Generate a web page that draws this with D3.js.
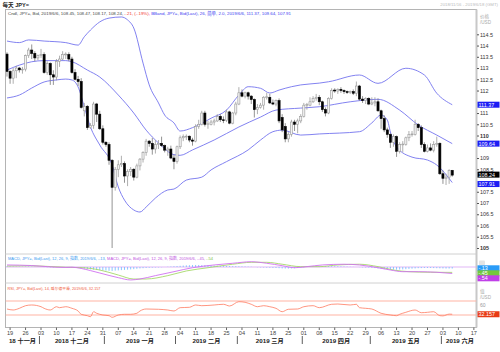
<!DOCTYPE html>
<html>
<head>
<meta charset="utf-8">
<script src="https://cdn.jsdelivr.net/npm/d3@7"></script>
<style>
body{margin:0;background:#fff;}
svg{display:block;font-family:"Liberation Sans","Noto Sans CJK SC",sans-serif;}
</style>
</head>
<body>
<div id="chart"></div>
<script>
// trading calendar shown on the chart (weekdays only)
let firstDay = new Date(2018, 10, 16);
let lastDay = new Date(2019, 5, 18);

// daily candles, 2018/11/16 .. 2019/6/6
let opens = [113.62,112.85,112.55,112.88,113.00,112.92,112.95,113.55,113.80,113.65,113.45,113.55,113.60,112.80,113.20,112.70,112.60,113.30,113.40,113.60,
 113.60,113.40,112.80,112.50,112.40,111.10,111.30,110.35,110.45,111.40,110.95,110.30,109.70,109.60,108.90,107.70,108.50,108.70,108.75,108.20,
 108.40,108.50,108.15,108.65,108.95,109.25,109.75,109.65,109.40,109.60,109.65,109.55,109.35,109.40,109.00,108.85,109.50,109.90,109.95,109.97,
 109.80,109.75,110.40,110.50,111.00,110.50,110.50,110.60,110.65,110.85,110.70,110.68,111.05,110.55,111.00,111.40,111.90,111.75,111.90,111.75,
 111.60,111.15,111.25,111.35,111.70,111.70,111.45,111.40,111.55,110.80,110.40,109.85,110.05,110.60,110.50,110.65,110.85,111.35,111.35,111.50,
 111.65,111.70,111.50,111.15,111.00,111.65,112.02,111.98,112.05,112.00,111.95,111.93,111.95,111.88,112.20,111.62,111.55,111.65,111.40,111.45,
 111.50,111.10,110.75,110.25,110.05,109.70,109.95,109.30,109.60,109.60,109.90,110.05,110.05,110.50,110.35,109.60,109.30,109.45,109.35,109.60,
 109.65,108.30,108.10,108.15,108.45];
let highs = [113.70,112.90,113.00,113.10,113.05,113.05,113.60,113.90,114.05,113.75,113.60,113.85,113.70,113.30,113.25,112.90,113.40,113.55,113.75,113.70,
 113.70,113.50,112.95,112.65,112.55,111.45,111.35,110.55,111.50,111.45,111.10,110.45,109.75,109.70,108.95,108.60,108.90,109.10,108.85,108.50,
 108.60,108.55,108.75,109.00,109.30,109.85,109.80,109.90,109.80,109.80,109.95,109.60,109.50,109.55,109.15,109.55,110.00,110.05,110.05,110.00,
 109.90,110.50,110.70,111.10,111.10,110.65,110.70,110.75,110.95,110.95,110.85,111.15,111.10,111.05,111.50,112.15,112.05,111.95,111.95,111.80,
 111.65,111.40,111.45,111.75,111.90,111.85,111.60,111.60,111.65,110.95,110.55,110.15,110.70,110.70,110.75,110.95,111.45,111.45,111.70,111.75,
 111.85,111.80,111.55,111.25,111.70,112.10,112.10,112.10,112.15,112.05,112.00,112.00,112.05,112.40,112.25,111.75,111.70,111.70,111.70,111.70,
 111.65,111.15,110.90,110.35,110.10,110.05,110.00,109.70,109.75,109.95,110.20,110.20,110.70,110.55,110.45,109.70,109.60,109.65,109.75,109.95,
 109.70,108.45,108.30,108.50,108.47];
let lows = [112.62,112.30,112.30,112.55,112.80,112.75,112.85,113.45,113.40,113.30,113.35,113.45,112.75,112.70,112.25,112.25,112.45,113.05,113.35,113.40,
 113.30,112.75,112.45,112.20,111.20,110.85,110.25,110.30,110.30,110.60,110.25,109.60,109.50,108.70,105.00,107.55,108.15,108.60,107.90,107.75,
 108.20,108.00,108.10,108.45,108.80,109.10,109.50,109.15,109.20,109.40,109.50,109.25,109.10,108.95,108.50,108.75,109.40,109.75,109.80,109.70,
 109.55,109.70,110.30,110.45,110.40,110.30,110.45,110.45,110.60,110.60,110.55,110.60,110.50,110.50,110.90,111.35,111.70,111.65,111.60,111.40,
 110.80,110.95,111.20,111.15,111.60,111.40,111.35,111.30,110.55,110.15,109.70,109.70,109.95,110.20,110.10,110.55,110.80,111.15,111.30,111.45,
 111.55,111.35,111.05,110.85,110.95,111.60,111.90,111.85,111.90,111.85,111.85,111.85,111.80,111.75,111.55,111.45,111.40,111.35,111.35,111.30,
 111.05,110.30,110.15,109.90,109.45,109.50,109.05,109.20,109.25,109.55,109.75,109.95,110.00,110.20,109.45,109.25,109.25,109.30,109.25,109.50,
 108.25,107.85,107.80,107.85,108.17];
let closes = [112.85,112.55,112.88,113.00,112.92,112.95,113.55,113.80,113.65,113.45,113.55,113.60,112.80,113.20,112.70,112.60,113.30,113.40,113.60,113.62,
 113.40,112.80,112.50,112.40,111.25,111.30,110.35,110.45,111.40,110.95,110.30,109.70,109.60,108.90,107.70,108.50,108.70,108.75,108.20,108.40,
 108.50,108.15,108.65,108.95,109.25,109.75,109.65,109.40,109.60,109.65,109.55,109.35,109.40,109.00,108.85,109.50,109.90,109.95,109.97,109.80,
 109.75,110.40,110.50,111.00,110.50,110.52,110.60,110.65,110.85,110.70,110.68,111.05,110.55,111.00,111.40,111.90,111.75,111.90,111.75,111.60,
 111.15,111.25,111.35,111.70,111.72,111.45,111.40,111.55,110.65,110.25,109.85,110.05,110.60,110.50,110.65,110.85,111.35,111.38,111.50,111.65,
 111.70,111.50,111.15,111.00,111.65,112.00,111.98,112.05,112.00,111.95,111.93,111.95,111.88,112.20,111.62,111.55,111.65,111.40,111.45,111.50,
 111.10,110.75,110.25,110.05,109.70,109.95,109.30,109.60,109.62,109.90,110.05,110.07,110.50,110.35,109.60,109.30,109.45,109.35,109.60,109.65,
 108.30,108.10,108.15,108.45,108.24];

// Bollinger band (26, 2.0)
let upperDates = ["11-16","11-22","11-27","12-04","12-13","12-19","12-21","12-25","12-28","01-02","01-08","01-10","01-14","01-17","01-21","01-24","01-28","01-31","02-04","02-08",
 "02-13","02-18","02-25","03-01","03-06","03-12","03-15","03-20","03-26","03-29","04-08","04-11","04-25","05-03","05-16","05-24","05-30","06-06"];
let upperVals = [114.20,114.13,114.25,114.20,114.13,114.02,114.39,114.69,115.05,115.22,115.27,115.14,114.78,113.22,112.25,111.45,110.91,110.56,110.20,110.35,
 110.54,110.77,111.13,111.80,112.17,112.10,111.89,112.02,112.17,112.25,112.33,112.39,112.69,112.32,112.99,112.69,111.88,111.37];
let midDates = ["11-16","11-22","11-28","12-04","12-13","12-17","12-24","12-28","01-07","01-14","01-18","01-24","01-31","02-04","02-08","02-19","03-01","03-12","03-19","03-29",
 "04-08","04-22","05-03","05-14","05-22","05-30","06-06"];
let midVals = [112.91,113.13,113.28,113.33,113.33,113.28,112.91,112.60,111.80,111.00,110.24,109.67,109.15,109.12,109.36,109.80,110.38,110.82,111.13,111.22,
 111.28,111.50,111.61,111.13,110.47,110.02,109.64];
let lowerDates = ["11-16","11-22","11-28","12-04","12-10","12-13","12-17","12-19","12-21","12-25","12-28","01-03","01-07","01-09","01-14","01-16","01-18","01-23","01-29","01-31",
 "02-06","02-13","02-18","02-25","03-06","03-12","03-18","03-21","03-29","04-08","04-25","05-01","05-06","05-08","05-09","05-13","05-20","05-27","05-30","06-06"];
let lowerVals = [111.67,111.80,112.11,112.38,112.47,112.51,112.47,112.16,111.27,110.38,109.58,108.69,107.71,107.13,106.69,106.60,106.82,107.22,107.58,107.62,
 108.02,108.15,108.47,108.84,109.36,109.80,110.17,110.24,110.02,110.07,110.17,110.56,110.91,110.69,110.16,109.49,109.04,108.91,108.69,107.91];

// MACD (12, 26, 9)
let macdDates = ["11-16","11-28","12-05","12-13","12-17","12-20","12-25","12-28","01-07","01-11","01-16","01-23","01-31","02-08","02-19","02-27","03-07","03-14","03-21","03-27",
 "04-02","04-09","04-18","04-25","05-03","05-09","05-15","05-22","05-30","06-06"];
let macdVals = [0.17,0.12,0.03,-0.04,-0.02,-0.12,-0.30,-0.50,-0.89,-1.08,-1.00,-0.72,-0.39,-0.06,0.17,0.31,0.44,0.31,0.11,-0.06,
 0.03,0.17,0.23,0.17,-0.06,-0.25,-0.39,-0.39,-0.44,-0.54];
let signalDates = ["11-16","11-28","12-05","12-13","12-20","12-28","01-07","01-14","01-18","01-29","02-06","02-15","02-27","03-07","03-14","03-21","03-29","04-08","04-16","04-25",
 "05-03","05-10","05-17","05-28","06-06"];
let signalVals = [0.08,0.10,0.05,-0.02,-0.05,-0.25,-0.67,-1.00,-1.00,-0.72,-0.33,-0.06,0.23,0.39,0.39,0.23,0.03,0.03,0.17,0.23,
 0.03,-0.25,-0.39,-0.44,-0.45];
let histVals = [0.06,0.05,0.04,0.03,0.03,0.02,0.03,0.04,0.03,0.02,0.01,0.00,-0.01,
 -0.02,-0.03,-0.03,-0.02,-0.01,-0.01,-0.02,-0.02,-0.03,-0.04,
 -0.06,-0.10,-0.14,-0.18,-0.20,-0.22,-0.25,-0.27,-0.28,-0.30,-0.32,-0.33,-0.30,
 -0.28,-0.26,-0.24,-0.22,-0.20,-0.18,-0.15,-0.12,-0.10,-0.08,-0.06,-0.05,-0.04,-0.03,-0.02,
 0.00,0.02,0.04,0.06,0.08,0.10,0.12,0.14,0.15,0.16,0.17,0.17,0.16,0.15,0.14,0.13,0.12,0.11,0.10,0.09,0.08,0.08,0.07,0.07,0.06,
 0.05,0.04,0.03,0.02,0.00,-0.02,-0.03,-0.04,-0.05,-0.06,-0.07,
 -0.08,-0.10,-0.12,-0.13,-0.13,-0.12,-0.10,-0.08,-0.06,
 -0.03,0.00,0.02,0.04,0.05,0.06,0.06,0.07,0.07,0.07,0.06,0.06,0.05,0.04,0.03,0.02,0.01,
 0.00,-0.01,-0.03,-0.04,-0.05,-0.07,-0.09,-0.12,-0.15,-0.18,-0.20,-0.21,-0.22,-0.22,-0.21,-0.20,-0.18,-0.16,-0.14,-0.12,-0.10,-0.09,-0.08,-0.08,-0.08,-0.09,-0.10,-0.11,-0.12,-0.13,-0.13,-0.13];

// RSI (14, Wilder)
let rsiDates = ["11-16","11-20","11-22","11-26","11-28","12-03","12-04","12-06","12-10","12-11","12-13","12-17","12-19","12-20","12-24","12-25","12-26","12-27","12-31","01-02",
 "01-03","01-07","01-09","01-11","01-15","01-16","01-18","01-24","01-29","01-31","02-04","02-07","02-11","02-13","02-19","02-22","02-26","03-01","03-05","03-07",
 "03-11","03-13","03-15","03-19","03-21","03-25","03-28","04-01","04-04","04-08","04-12","04-16","04-22","04-24","04-25","04-29","05-01","05-06","05-09","05-13",
 "05-14","05-16","05-21","05-23","05-27","05-29","05-31","06-03","06-05","06-06"];
let rsiVals = [47.1,44.3,49.1,56.6,58.6,53.7,49.1,44.3,53.7,50.9,53.7,49.1,41.4,32.0,28.0,25.1,39.4,34.9,30.0,28.0,
 23.4,30.0,32.0,32.0,34.9,41.4,47.1,46.3,44.3,41.4,50.9,52.0,58.6,56.6,58.6,60.6,55.7,68.0,66.3,60.6,
 53.7,56.6,53.7,49.1,39.4,46.3,47.1,53.7,56.6,50.9,60.6,61.4,58.6,60.6,50.9,49.1,47.1,34.9,30.0,28.0,
 32.0,37.7,44.3,36.6,37.7,39.4,28.0,27.5,32.5,32.157];

// axis labels (111.5, 109.5 and 108 sit under the value boxes)
let priceTicks = [114.5,114,113.5,113,112.5,112,111,110.5,110,109,108.5,107.5,107,106.5,106,105.5,105];
let monthLabels = ["18 十一月","2018 十二月","2019 一月","2019 二月","2019 三月","2019 四月","2019 五月","2019 六月"];

let width = 500, height = 352;
let plotLeft = 5.5, plotRight = 476.5;
let mainTop = 9.5, mainBottom = 254, macdBottom = 283, rsiBottom = 327.5;

let days = d3.timeDay.range(firstDay, d3.timeDay.offset(lastDay, 1)).filter(d => d.getDay() % 6 !== 0);
let keyOf = d3.timeFormat("%m-%d");
let dayIndex = new Map(days.map((d, i) => [keyOf(d), i]));

let x = d3.scaleBand().domain(d3.range(days.length)).range([5.45, 478.5]);
let cx = i => x(i) + x.bandwidth() / 2;
let y = d3.scaleLinear().domain([105, 114.5]).range([248, 34.3]);
let yMacd = d3.scaleLinear().domain([-1, 1]).range([279, 255]);
let yRsi = d3.scaleLinear().domain([30, 70]).range([315, 301]);

let candles = opens.map((o, i) => ({i, o, h: highs[i], l: lows[i], c: closes[i]}));
let series = (dates, vals) => dates.map((d, k) => ({i: dayIndex.get(d), v: vals[k]}));

let svg = d3.create("svg").attr("width", width).attr("height", height);
svg.append("rect").attr("width", width).attr("height", height).attr("fill", "#fff");

svg.append("clipPath").attr("id", "plotclip")
    .append("rect").attr("x", plotLeft).attr("y", mainTop).attr("width", plotRight - plotLeft).attr("height", rsiBottom - mainTop);

// header
svg.append("text").attr("x", 2.5).attr("y", 6.8).attr("font-size", 5.6).attr("font-weight", "bold").attr("fill", "#222").text("每天 JPY=");
svg.append("text").attr("x", 498).attr("y", 6.3).attr("text-anchor", "end").attr("font-size", 4.3).attr("fill", "#bbb")
    .text("2018/11/16 - 2019/6/18 (GMT)");

// panel frames
let frame = svg.append("g").attr("stroke", "#b4b4b4").attr("fill", "none");
frame.append("rect").attr("x", plotLeft).attr("y", mainTop).attr("width", plotRight - plotLeft).attr("height", rsiBottom - mainTop);
frame.append("line").attr("x1", plotLeft).attr("x2", plotRight).attr("y1", mainBottom).attr("y2", mainBottom).attr("stroke", "#d0d0d0");
frame.append("line").attr("x1", plotLeft).attr("x2", plotRight).attr("y1", macdBottom).attr("y2", macdBottom).attr("stroke", "#d0d0d0");
frame.append("line").attr("x1", plotRight).attr("x2", plotRight).attr("y1", mainTop).attr("y2", rsiBottom).attr("stroke", "#c8c8c8").attr("stroke-width", 2);

let plot = svg.append("g").attr("clip-path", "url(#plotclip)");

// bollinger bands
let bandLine = d3.line().x(d => cx(d.i)).y(d => y(d.v)).curve(d3.curveMonotoneX);
plot.append("g").attr("fill", "none").attr("stroke", "#7474ee").attr("stroke-width", 0.9)
  .selectAll("path")
  .data([series(upperDates, upperVals), series(midDates, midVals), series(lowerDates, lowerVals)])
  .join("path")
    .attr("d", bandLine);

// candles
let cg = plot.append("g").selectAll("g").data(candles).join("g");
cg.append("line")
    .attr("x1", d => cx(d.i)).attr("x2", d => cx(d.i))
    .attr("y1", d => y(d.h)).attr("y2", d => y(d.l))
    .attr("stroke", d => d.c >= d.o ? "#9a9a9a" : "#777")
    .attr("stroke-width", 0.8);
cg.append("rect")
    .attr("x", d => cx(d.i) - 1.05)
    .attr("width", 2.1)
    .attr("y", d => y(Math.max(d.o, d.c)))
    .attr("height", d => Math.max(0.8, Math.abs(y(d.o) - y(d.c))))
    .attr("fill", d => d.c >= d.o ? "#f2f2f2" : "#000")
    .attr("stroke", d => d.c >= d.o ? "#9a9a9a" : "#000")
    .attr("stroke-width", 0.6);

// legend lines, coloured runs as tspans of one text
function legend(x0, yb, size, runs) {
  let t = svg.append("text").attr("x", x0).attr("y", yb).attr("font-size", size);
  runs.forEach(([fill, txt]) => t.append("tspan").attr("fill", fill).text(txt));
}
legend(8, 15, 4.4, [
  ["#444", "Cndl, JPY=, Bid, 2019/6/6, 108.45, 108.47, 108.17, 108.24, "],
  ["#f03030", "-.21, (-.19%), "],
  ["#3a3af0", "BBand, JPY=, Bid(Last), 26, 简单, 2.0, 2019/6/6, 111.37, 109.64, 107.91"]
]);

// price axis
let pAxis = svg.append("g").attr("transform", `translate(${plotRight + 0.5},0)`)
    .call(d3.axisRight(y).tickValues(priceTicks).tickSize(2).tickPadding(1).tickFormat(d3.format("~g")));
pAxis.select(".domain").remove();
pAxis.selectAll(".tick line").attr("stroke", "#555");
pAxis.selectAll(".tick text").attr("font-size", 5.4).attr("fill", "#333").attr("font-family", null)
    .attr("font-weight", d => d % 5 === 0 ? "bold" : null);
svg.append("text").attr("x", 480).attr("y", 18).attr("font-size", 4.6).attr("fill", "#aaa").text("价格");
svg.append("text").attr("x", 480).attr("y", 24).attr("font-size", 4.6).attr("fill", "#aaa").text("/USD");

function valueBox(yc, label, fill) {
  let g = svg.append("g");
  g.append("rect").attr("x", 477.5).attr("y", yc - 3).attr("width", 22).attr("height", 6).attr("fill", fill);
  g.append("text").attr("x", 478.5).attr("y", yc + 2).attr("font-size", 5.4).attr("fill", "#fff").text(label);
}
valueBox(y(111.37), "111.37", "#1c1cf4");
valueBox(y(109.64), "109.64", "#1c1cf4");
valueBox(y(108.24) - 0.5, "108.24", "#000");
valueBox(y(107.91) + 1.5, "107.91", "#1c1cf4");

// MACD panel
plot.append("line").attr("x1", plotLeft).attr("x2", plotRight).attr("y1", yMacd(0)).attr("y2", yMacd(0))
    .attr("stroke", "#d9a4f4").attr("stroke-width", 0.8);
plot.append("g").attr("stroke", "#7cc0ff").attr("stroke-width", 0.9)
  .selectAll("line").data(histVals).join("line")
    .attr("x1", (d, i) => cx(i)).attr("x2", (d, i) => cx(i))
    .attr("y1", yMacd(0)).attr("y2", d => yMacd(d));
let macdLine = d3.line().x(d => cx(d.i)).y(d => yMacd(d.v)).curve(d3.curveMonotoneX);
plot.append("path").datum(series(signalDates, signalVals)).attr("d", macdLine)
    .attr("fill", "none").attr("stroke", "#a6d86a").attr("stroke-width", 0.9);
plot.append("path").datum(series(macdDates, macdVals)).attr("d", macdLine)
    .attr("fill", "none").attr("stroke", "#d070f0").attr("stroke-width", 0.9);

legend(8, 260, 4.0, [
  ["#3a9af0", "MACD, JPY=, Bid(Last), 12, 26, 9, 指数, 2019/6/6, -.13, "],
  ["#c050e0", "MACD, JPY=, Bid(Last), 12, 26, 9, 指数, 2019/6/6, -.45, "],
  ["#7cc040", "-.54"]
]);

svg.append("rect").attr("x", 479).attr("y", 260.5).attr("width", 6).attr("height", 5).attr("rx", 1).attr("fill", "#e4e4e4");
valueBox(268.3, "-.13", "#2a9cf8");
valueBox(273.3, "-.45", "#74c83c");
valueBox(278.3, "-.54", "#c040e8");

// RSI panel
plot.append("g").attr("stroke", "#ffb4a4").attr("stroke-width", 1.2)
  .selectAll("line").data([70, 30]).join("line")
    .attr("x1", plotLeft).attr("x2", plotRight).attr("y1", d => yRsi(d)).attr("y2", d => yRsi(d));
plot.append("path").datum(series(rsiDates, rsiVals))
    .attr("d", d3.line().x(d => cx(d.i)).y(d => yRsi(d.v)).curve(d3.curveMonotoneX))
    .attr("fill", "none").attr("stroke", "#ff7a60").attr("stroke-width", 0.8);
legend(7.5, 289.5, 3.8, [["#f06040", "RSI, JPY=, Bid(Last), 14, 威尔德平滑, 2019/6/6, 32.157"]]);
svg.append("text").attr("x", 480).attr("y", 293).attr("font-size", 4.6).attr("fill", "#aaa").text("值");
svg.append("text").attr("x", 480).attr("y", 299).attr("font-size", 4.6).attr("fill", "#aaa").text("/USD");
svg.append("text").attr("x", 480).attr("y", yRsi(60) + 2).attr("font-size", 5).attr("fill", "#999").text("60");
valueBox(yRsi(32.157), "32.157", "#e83a14");

// time axis
let mondays = days.map((d, i) => i).filter(i => days[i].getDay() === 1);
let tAxis = svg.append("g").attr("transform", `translate(0,${rsiBottom})`)
    .call(d3.axisBottom(x).tickValues(mondays).tickSize(2.5).tickPadding(1.5).tickFormat(i => d3.timeFormat("%d")(days[i])));
tAxis.select(".domain").remove();
tAxis.selectAll(".tick line").attr("stroke", "#666");
tAxis.selectAll(".tick text").attr("font-size", 5.6).attr("fill", "#444").attr("font-family", null);

let months = d3.groups(days.map((d, i) => ({i, m: d3.timeFormat("%Y-%m")(d)})), d => d.m)
    .map(([m, arr], k) => ({
      label: monthLabels[k],
      x0: Math.max(x(arr[0].i), plotLeft),
      x1: x(arr[arr.length - 1].i) + x.bandwidth()
    }));
let mg = svg.append("g");
mg.selectAll("text").data(months).join("text")
    .attr("x", d => (d.x0 + d.x1) / 2).attr("y", 343)
    .attr("text-anchor", "middle").attr("font-size", 6.2).attr("font-weight", "bold").attr("fill", "#222")
    .text(d => d.label);
mg.selectAll("line").data(months.slice(1)).join("line")
    .attr("x1", d => d.x0).attr("x2", d => d.x0).attr("y1", 336).attr("y2", 344)
    .attr("stroke", "#333").attr("stroke-width", 0.8);

document.getElementById("chart").appendChild(svg.node());
</script>
</body>
</html>
